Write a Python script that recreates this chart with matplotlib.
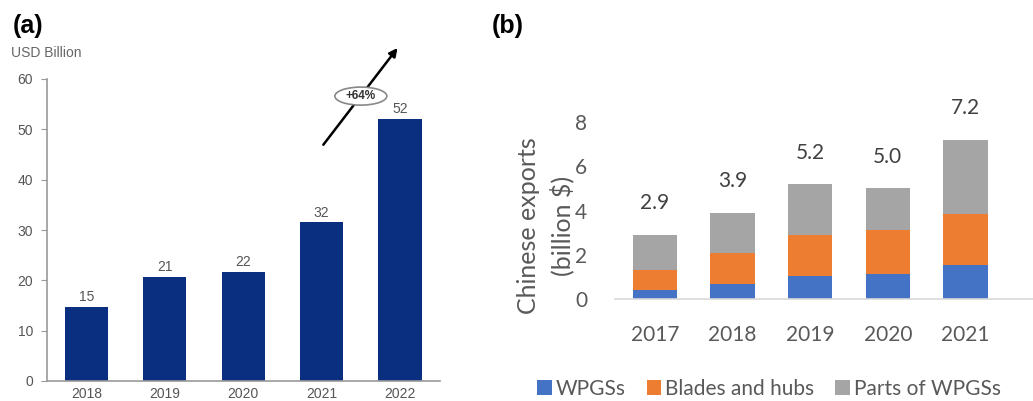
import matplotlib
matplotlib.use("Agg")
import matplotlib.pyplot as plt
from matplotlib.patches import Ellipse
import numpy as np


#%%
# (a) global exports, USD billion
yearsA = ["2018", "2019", "2020", "2021", "2022"]
valuesA = [14.7, 20.7, 21.7, 31.5, 52.0]
labelsA = ["15", "21", "22", "32", "52"]
growthA = "+64%"

# (b) Chinese exports, billion $
yearsB = ["2017", "2018", "2019", "2020", "2021"]
wpgs = [0.39, 0.68, 1.05, 1.13, 1.55]
blades = [0.91, 1.42, 1.83, 2.00, 2.31]
parts = [1.60, 1.80, 2.32, 1.87, 3.34]
totalsB = ["2.9", "3.9", "5.2", "5.0", "7.2"]
seriesB = ["WPGSs", "Blades and hubs", "Parts of WPGSs"]


#%%
def plotLeft(fig):
    ax = fig.add_axes([47/1033, 1-381/401, 393/1033, 302/401])
    x = np.arange(len(yearsA))
    ax.bar(x, valuesA, width=0.55, color="#0b2f80", zorder=2)
    for i in range(len(x)):
        ax.annotate(labelsA[i], (x[i], valuesA[i]), xytext=(0, 2), textcoords="offset points",
                    ha="center", va="bottom", fontsize=10, color="#555555", family="Liberation Sans")
    ax.set_xlim(-0.504, 4.51)
    ax.set_ylim(0, 60)
    ax.set_yticks(range(0, 61, 10))
    ax.set_xticks(x)
    ax.set_xticklabels(yearsA)
    for s in ["top", "right"]:
        ax.spines[s].set_visible(False)
    for s in ["left", "bottom"]:
        ax.spines[s].set_color("#9a9a9a")
        ax.spines[s].set_linewidth(1.2)
    ax.tick_params(axis="y", length=4, color="#9a9a9a", labelsize=10, labelcolor="#555555", pad=6)
    ax.tick_params(axis="x", length=0, labelsize=10, labelcolor="#555555", pad=4)
    for t in ax.get_xticklabels() + ax.get_yticklabels():
        t.set_family("Liberation Sans")

    # growth arrow 2021 -> 2022
    ax.annotate("", xy=(3.99, 66.6), xytext=(3.0, 46.5), annotation_clip=False,
                arrowprops=dict(arrowstyle="-|>", color="black", lw=1.8, mutation_scale=12))
    ell = Ellipse((3.50, 56.6), 0.663, 3.58, facecolor="white", edgecolor="#888888", lw=1.2,
                  clip_on=False, zorder=5)
    ax.add_patch(ell)
    ax.text(3.50, 56.6, growthA, ha="center", va="center", fontsize=8.5, fontweight="bold",
            color="#333333", family="Liberation Sans", zorder=6, clip_on=False)

    fig.text(11/1033, 1-53/401, "USD Billion", ha="left", va="center", fontsize=10,
             color="#666666", family="Liberation Sans")
    fig.text(13/1033, 1-26/401, "(a)", ha="left", va="center", fontsize=18, fontweight="bold",
             family="Liberation Sans")


def plotRight(fig):
    ax = fig.add_axes([615/1033, 1-299/401, 418/1033, 199/401])
    x = np.arange(len(yearsB))
    w = 0.57
    ax.bar(x, wpgs, width=w, color="#4472C4", label=seriesB[0], zorder=2)
    b2 = np.array(wpgs)
    ax.bar(x, blades, width=w, bottom=b2, color="#ED7D31", label=seriesB[1], zorder=2)
    b3 = b2 + np.array(blades)
    ax.bar(x, parts, width=w, bottom=b3, color="#A5A5A5", label=seriesB[2], zorder=2)
    tops = b3 + np.array(parts)
    for i in range(len(x)):
        ax.text(x[i], tops[i] + 1.42, totalsB[i], ha="center", va="center", fontsize=15,
                color="#404040", family="Lato", clip_on=False)

    ax.set_xlim(-0.515, 4.87)
    ax.set_ylim(0, 9)
    ax.set_yticks(range(0, 9, 2))
    ax.set_xticks(x)
    ax.set_xticklabels(yearsB)
    for s in ["top", "right", "left"]:
        ax.spines[s].set_visible(False)
    ax.spines["bottom"].set_color("#d9d9d9")
    ax.spines["bottom"].set_linewidth(1.2)
    ax.tick_params(axis="y", length=0, labelsize=15, labelcolor="#595959", pad=20)
    ax.tick_params(axis="x", length=0, labelsize=15, labelcolor="#595959", pad=19)
    for t in ax.get_xticklabels() + ax.get_yticklabels():
        t.set_family("Lato")

    fig.text(546/1033, 1-226/401, "Chinese exports\n(billion $)", rotation=90, ha="center",
             va="center", fontsize=18, color="#595959", family="Lato", linespacing=1.45,
             multialignment="center")
    fig.text(492/1033, 1-26/401, "(b)", ha="left", va="center", fontsize=18, fontweight="bold",
             family="Liberation Sans")

    leg = fig.legend(loc="center", bbox_to_anchor=(769/1033, 1-389/401), ncol=3, frameon=False,
                     handlelength=0.7, handleheight=0.7, handletextpad=0.2, columnspacing=1.0,
                     prop={"family": "Lato", "size": 15})
    for t in leg.get_texts():
        t.set_color("#595959")


#%%
fig = plt.figure(figsize=(10.33, 4.01), dpi=100)
plotLeft(fig)
plotRight(fig)
fig.savefig("out.png", dpi=100)
